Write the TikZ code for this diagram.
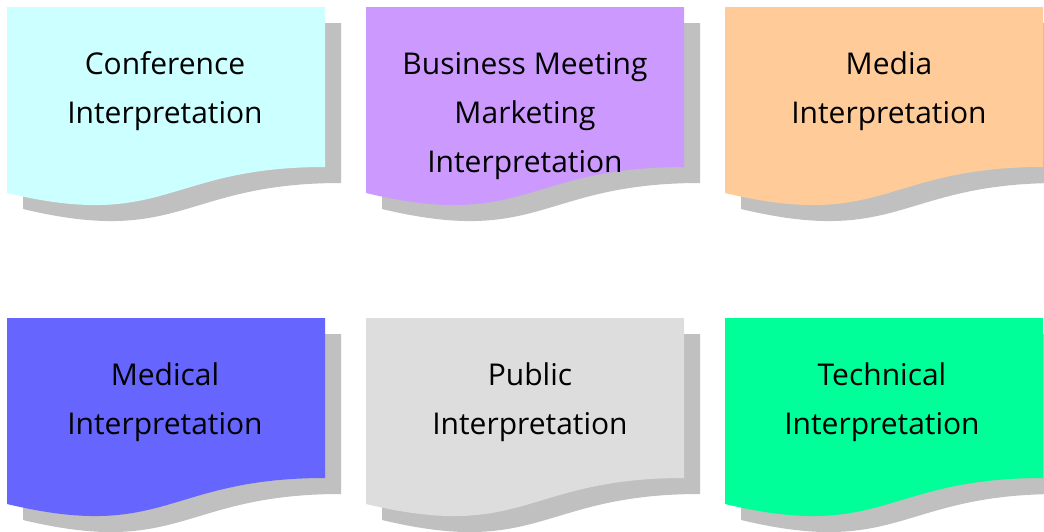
\documentclass[tikz,border=0pt]{standalone}
\usepackage{fontspec}
\setmainfont{Open Sans}
\definecolor{shadowgray}{HTML}{C0C0C0}
\definecolor{cconf}{HTML}{CCFFFF}
\definecolor{cbus}{HTML}{CC99FF}
\definecolor{cmedia}{HTML}{FFCC99}
\definecolor{cmed}{HTML}{6666FF}
\definecolor{cpub}{HTML}{DDDDDD}
\definecolor{ctech}{HTML}{00FF99}
\newcommand\mydoc[3]{%
 \fill[shadowgray] (#1+16,#2+16) -- (#1+334,#2+16) -- (#1+334,#2+176) .. controls (#1+175,#2+176) and (#1+175,#2+240) .. (#1+16,#2+202) -- cycle;
 \fill[#3] (#1,#2) -- (#1+318,#2) -- (#1+318,#2+160) .. controls (#1+159,#2+160) and (#1+159,#2+224) .. (#1,#2+186) -- cycle;
}
\tikzset{lbl/.style={font=\fontsize{30}{49}\selectfont, align=center, inner sep=0pt, anchor=base, text=black}}
\begin{document}
\begin{tikzpicture}[x=1pt,y=-1pt]
\useasboundingbox (0,0) rectangle (1044,531);
\clip (0,0) rectangle (1044,531);
\mydoc{7}{7}{cconf}
\mydoc{366}{7}{cbus}
\mydoc{725}{7}{cmedia}
\mydoc{7}{318}{cmed}
\mydoc{366}{318}{cpub}
\mydoc{725}{318}{ctech}
\node[lbl] (conf) at (165,123) {Conference\\Interpretation};
\node[lbl] (bus) at (525,172) {Business Meeting\\Marketing\\Interpretation};
\node[lbl] (media) at (889,123) {Media\\Interpretation};
\node[lbl] (med) at (165,434) {Medical\\Interpretation};
\node[lbl] (pub) at (530,434) {Public\\Interpretation};
\node[lbl] (tech) at (882,434) {Technical\\Interpretation};
\end{tikzpicture}
\end{document}
